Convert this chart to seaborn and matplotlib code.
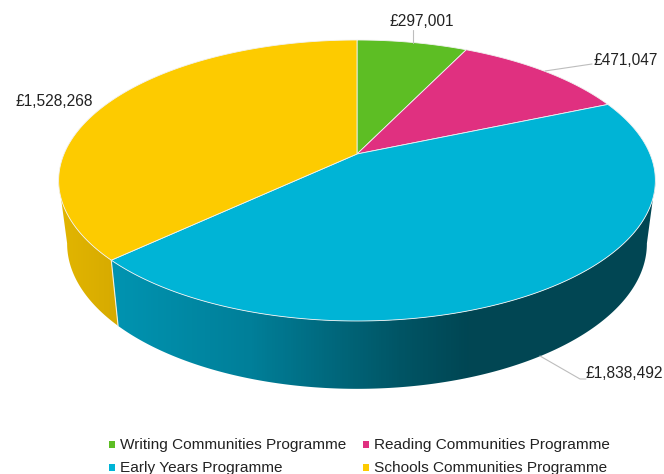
import numpy as np
import pandas as pd
import matplotlib
matplotlib.use("Agg")
import matplotlib.pyplot as plt
from matplotlib.colors import LinearSegmentedColormap
from matplotlib.patches import Polygon
import seaborn as sns

programmes = ["Writing Communities Programme", "Reading Communities Programme",
              "Early Years Programme", "Schools Communities Programme"]
amounts = [297001, 471047, 1838492, 1528268]
value_labels = ["£297,001", "£471,047", "£1,838,492", "£1,528,268"]
colours = ["#5DBE24", "#E03080", "#00B4D6", "#FDCB00"]
teal_x = [118, 250, 400, 470]
teal_side = ["#0093B0", "#007F99", "#005565", "#014653"]
yellow_x = [60, 118]
yellow_side = ["#E2B500", "#D6AA00"]

sns.set_theme(style="white")
plt.rcParams["font.family"] = ["Liberation Sans", "DejaVu Sans"]

fig = plt.figure(figsize=(6.64, 4.74), dpi=100)
ax = fig.add_axes([0, 0, 1, 1])
W, H = 664, 474


def rim(theta, cy, A, B, k, cx=357.0):
    u, v = np.sin(theta), np.cos(theta)
    w = 1 + k * v
    return cx + A * u / w, cy - B * v / w


TOP = dict(cy=154.0, A=293.0, B=135.5, k=0.1886)
BOT = dict(cy=216.0, A=284.6, B=140.0, k=0.19)

edges = np.concatenate([[0], np.cumsum(amounts)]) / np.sum(amounts) * 2 * np.pi
right_tangent = np.arccos(-TOP["k"])
left_tangent = 2 * np.pi - right_tangent


def side_poly(t0, t1):
    t = np.linspace(t0, t1, 300)
    xt, yt = rim(t, **TOP)
    xb, yb = rim(t, **BOT)
    return np.column_stack([np.r_[xt, xb[::-1]], np.r_[yt, yb[::-1]]])


def gradient_side(t0, t1, xs, stops):
    x0, x1 = 0.0, float(W)
    pos = [0.0] + [x / W for x in xs] + [1.0]
    cols = [stops[0]] + list(stops) + [stops[-1]]
    cmap = LinearSegmentedColormap.from_list("side", list(zip(pos, cols)))
    grad = np.linspace(0, 1, W)[None, :]
    im = ax.imshow(grad, cmap=cmap, extent=[x0, x1, H, 0], aspect="auto", zorder=1,
                   vmin=0, vmax=1)
    patch = Polygon(side_poly(t0, t1), closed=True, transform=ax.transData,
                    facecolor="none", edgecolor="none")
    ax.add_patch(patch)
    im.set_clip_path(patch)


gradient_side(right_tangent, edges[3], teal_x, teal_side)
gradient_side(edges[3], left_tangent, yellow_x, yellow_side)
xa, ya = rim(np.array([edges[3]]), **TOP)
xb, yb = rim(np.array([edges[3]]), **BOT)
ax.plot([xa[0], xb[0]], [ya[0], yb[0]], color="#F4F0DC", lw=0.8, zorder=1.5)

# top face
for i, col in enumerate(colours):
    t = np.linspace(edges[i], edges[i + 1], 300)
    x, y = rim(t, **TOP)
    ax.fill(np.r_[357.0, x], np.r_[154.0, y], facecolor=col,
            edgecolor="#F2F2F2", linewidth=0.6, zorder=2, joinstyle="round")

# leader lines
leader_col = "#BDBDBD"
ax.plot([413, 413], [30, 43], color=leader_col, lw=0.8, zorder=3)
ax.plot([545, 592], [71, 64], color=leader_col, lw=0.8, zorder=3)
ax.plot([540, 580, 586], [356, 379, 379], color=leader_col, lw=0.8, zorder=3)

# value labels
txt = dict(fontsize=11.2, color="#222222", va="center", zorder=4)
ax.text(389, 21, value_labels[0], ha="left", **txt)
ax.text(593, 60, value_labels[1], ha="left", **txt)
ax.text(586, 373.5, value_labels[2], ha="left", **txt)
ax.text(15, 101.5, value_labels[3], ha="left", **txt)

# legend swatches and names
leg = pd.DataFrame({"x": [112, 366, 112, 366], "y": [444.5, 444.5, 467.5, 467.5], "name": programmes})
sns.scatterplot(data=leg, x="x", y="y", hue="name", palette=colours, marker="s",
                s=22, linewidth=0, legend=False, ax=ax, zorder=4)
for _, row in leg.iterrows():
    ax.text(row["x"] + 8, row["y"] + 0.5, row["name"], fontsize=11.05, color="#222222",
            va="center", ha="left", zorder=4)

ax.set_xlim(0, W)
ax.set_ylim(H, 0)
ax.set_xlabel("")
ax.set_ylabel("")
ax.axis("off")
fig.savefig("out.png", dpi=100, facecolor="white")
